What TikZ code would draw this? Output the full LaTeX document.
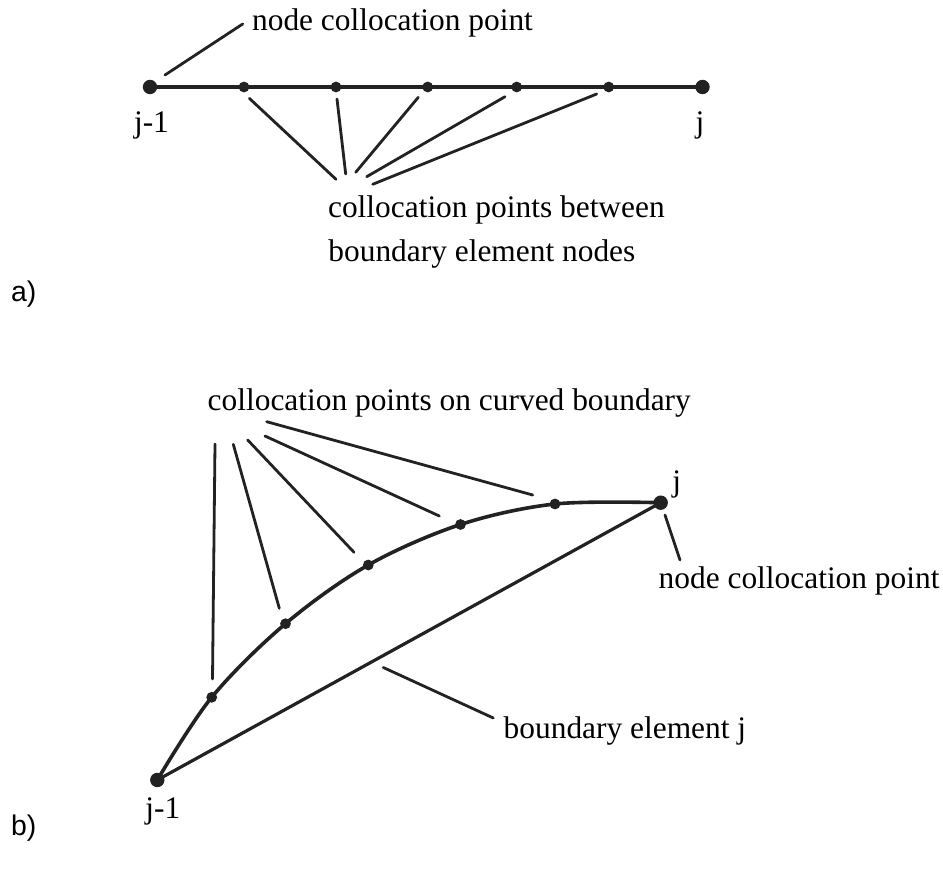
\documentclass[tikz,border=0pt]{standalone}
\usepackage{fontspec}
\setmainfont{Liberation Serif}
\newfontfamily\tagfont{Liberation Sans}
\usetikzlibrary{positioning}
\definecolor{figink}{HTML}{222222}

\begin{document}
\begin{tikzpicture}[
  x=0.5pt, y=-0.5pt,
  line cap=round, line join=round,
  elem/.style  = {draw=figink, line width=1.6pt},
  curv/.style  = {draw=figink, line width=1.8pt},
  lead/.style  = {draw=figink, line width=1.4pt},
  bigpt/.style = {circle, fill=figink, inner sep=0pt, minimum size=7.2pt},
  smpt/.style  = {circle, fill=figink, inner sep=0pt, minimum size=5.4pt},
  txt/.style   = {font=\fontsize{15.7}{18}\selectfont, inner sep=0pt, anchor=base west},
  tag/.style   = {font=\tagfont\fontsize{14.2}{17}\selectfont, inner sep=0pt, anchor=base west}
]
\useasboundingbox (0,0) rectangle (943,871);

% a) gerades Element
\node[bigpt] (aL) at (150,87)   {};
\node[bigpt] (aR) at (702.5,87) {};
\foreach \x [count=\i] in {244,336,427.7,516.7,608.7}
  \node[smpt] (a\i) at (\x,87) {};
\draw[elem] (aL.center) -- (aR.center);

\node[txt] (aNode) at (251.7,30.7) {node collocation point};
\node[txt, anchor=base] (aJm) at (151.5,133) {j-1};
\node[txt, anchor=base] (aJ)  at (700,133)   {j};
\node[txt] (aBetw) at (327.7,218)  {collocation points between};
\node[txt] (aBnd)  at (328,261.7)  {boundary element nodes};
\node[tag] (aTag)  at (10.7,301.7) {a)};

% Hinweislinien a)
\coordinate (aN0) at (165,75);
\coordinate (aN1) at (242.7,24);
\draw[lead] (aN0) -- (aN1);
\foreach \i/\sx/\sy/\ex/\ey in {1/249.3/98.3/336/179.3, 2/337/99/345.7/174,
    3/418.3/97.3/355.7/172.3, 4/505/96.7/366.7/176.7, 5/596.7/94/372.7/184.3} {
  \coordinate (aS\i) at (\sx,\sy);
  \coordinate (aE\i) at (\ex,\ey);
  \draw[lead] (aS\i) -- (aE\i);
}

% b) gekruemmtes Element
\node[bigpt] (bL) at (157.3,780)   {};
\node[bigpt] (bR) at (660.7,502.7) {};
\foreach \x/\y [count=\i] in {211.7/697.3, 285.5/623.7, 368.3/565, 460.5/524.5, 555/504}
  \node[smpt] (b\i) at (\x,\y) {};
\draw[elem] (bL.center) -- (bR.center);
\draw[curv] plot[smooth, tension=0.55] coordinates {(bL.center) (b1.center) (b2.center)
  (b3.center) (b4.center) (b5.center) (bR.center)};

\node[txt] (bCurv) at (207.3,410.7) {collocation points on curved boundary};
\node[txt] (bJ)    at (672,491.7)   {j};
\node[txt] (bNode) at (658.3,588.3) {node collocation point};
\node[txt] (bElem) at (503.3,738.3) {boundary element j};
\node[txt] (bJm)   at (145,818.3)   {j-1};
\node[tag] (bTag)  at (10.7,835)    {b)};

% Hinweislinien b)
\foreach \i/\sx/\sy/\ex/\ey in {1/215/444/212.5/679, 2/233.3/444.3/279.3/608.3,
    3/247.7/440/354/552.3, 4/265/436/439.3/516, 5/266.7/421.7/532.7/495} {
  \coordinate (bS\i) at (\sx,\sy);
  \coordinate (bE\i) at (\ex,\ey);
  \draw[lead] (bS\i) -- (bE\i);
}
\coordinate (bN0) at (665,515);
\coordinate (bN1) at (680,560);
\draw[lead] (bN0) -- (bN1);
\coordinate (bE0) at (383.3,667.5);
\coordinate (bE9) at (493.3,718);
\draw[lead] (bE0) -- (bE9);

\end{tikzpicture}
\end{document}
